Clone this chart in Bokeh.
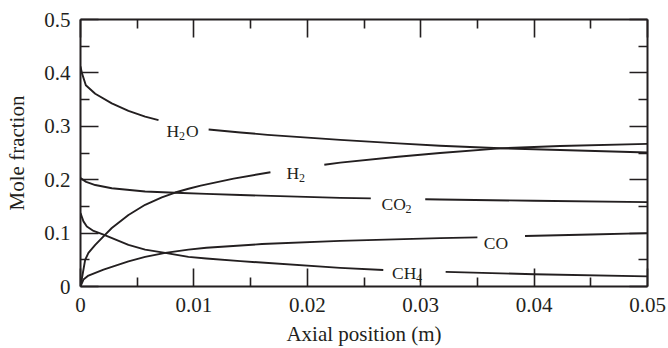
import numpy as np
from bokeh.plotting import figure
from bokeh.models import Range1d, FixedTicker, LinearAxis, ColumnDataSource
from bokeh.core.properties import value
from bokeh.embed import file_html
from bokeh.resources import INLINE

nan = float("nan")

# ---- data (x in m, y = mole fraction); nan = gap for label
h2o_x = [0, 0.00012, 0.00047, 0.0013, 0.00276, 0.00423, 0.0057, 0.00688, nan,
         0.0113, 0.0141, 0.0165, 0.0229, 0.028, 0.0317, 0.037, 0.0423, 0.05]
h2o_y = [0.412, 0.400, 0.377, 0.361, 0.343, 0.329, 0.318, 0.3116, nan,
         0.294, 0.2885, 0.284, 0.2745, 0.268, 0.2635, 0.259, 0.2555, 0.251]

h2_x = [0, 0.00041, 0.0007, 0.0013, 0.00203, 0.00276, 0.00423, 0.0057, 0.00717,
        0.00835, 0.00952, 0.0106, 0.0135, 0.01675, nan, 0.0215, 0.0229, 0.028, 0.0317,
        0.037, 0.0423, 0.05]
h2_y = [0, 0.050, 0.063, 0.078, 0.094, 0.1095, 0.134, 0.153, 0.1667,
        0.176, 0.183, 0.189, 0.202, 0.214, nan, 0.228, 0.232, 0.243, 0.250,
        0.2587, 0.263, 0.267]

co2_x = [0, 0.0005, 0.0013, 0.00276, 0.0057, 0.00835, 0.0111, 0.0141, 0.0229, 0.0256, nan,
         0.0304, 0.0317, 0.040, 0.05]
co2_y = [0.203, 0.196, 0.190, 0.184, 0.178, 0.1757, 0.1735, 0.1713, 0.166, 0.165, nan,
         0.1635, 0.163, 0.1605, 0.158]

co_x = [0, 0.00026, 0.0007, 0.00203, 0.00423, 0.0057, 0.00747, 0.00952, 0.0111, 0.016,
        0.0229, 0.0317, 0.035, nan, 0.0392, 0.045, 0.05]
co_y = [0, 0.013, 0.0205, 0.0317, 0.047, 0.0554, 0.063, 0.069, 0.0725, 0.0795,
        0.0855, 0.0905, 0.092, nan, 0.0945, 0.0975, 0.100]

ch4_x = [0, 0.00026, 0.00056, 0.00115, 0.00203, 0.00423, 0.0057, 0.00747, 0.00952, 0.0111,
         0.0141, 0.0229, 0.0267, nan, 0.0322, 0.040, 0.05]
ch4_y = [0.1375, 0.122, 0.1125, 0.104, 0.097, 0.078, 0.069, 0.063, 0.0554, 0.0525,
         0.0475, 0.0349, 0.031, nan, 0.0274, 0.023, 0.019]

x_ticks = [0, 0.01, 0.02, 0.03, 0.04, 0.05]
x_tick_labels = ["0", "0.01", "0.02", "0.03", "0.04", "0.05"]
x_minor = [0.005, 0.015, 0.025, 0.035, 0.045]
y_ticks = [0, 0.1, 0.2, 0.3, 0.4, 0.5]
y_tick_labels = ["0", "0.1", "0.2", "0.3", "0.4", "0.5"]
y_minor = [0.05, 0.15, 0.25, 0.35, 0.45]

# curve labels: anchor (left edge, baseline) in data coords
lab_x = [0.00758, 0.01817, 0.02654, 0.03557, 0.02748]
lab_y = [0.2916, 0.2121, 0.1543, 0.0815, 0.0255]
main_text = [["H", "O"], ["H"], ["CO"], ["CO"], ["CH"]]
main_off = [[0, 19.5], [0], [0], [0], [0]]
sub_text = ["2", "2", "2", "", "4"]
sub_off = [12.5, 12.5, 24, 0, 24]

INK = "#231f20"
FONT = "Liberation Serif"

p = figure(width=668, height=348, output_backend="svg", toolbar_location=None,
           x_range=Range1d(0, 0.05), y_range=Range1d(0, 0.5),
           min_border_left=80, min_border_right=21, min_border_top=19, min_border_bottom=61,
           x_axis_label="Axial position (m)", y_axis_label="Mole fraction")
p.outline_line_color = None
p.grid.visible = False
p.background_fill_color = "white"
p.border_fill_color = "white"

def style_axis(ax, ticks, minor, labels, show_labels):
    ax.ticker = FixedTicker(ticks=ticks, minor_ticks=minor)
    ax.major_tick_in = 18
    ax.major_tick_out = 0
    ax.minor_tick_in = 9
    ax.minor_tick_out = 0
    ax.axis_line_width = 2
    ax.axis_line_color = INK
    ax.major_tick_line_width = 1.6
    ax.minor_tick_line_width = 1.6
    ax.major_tick_line_color = INK
    ax.minor_tick_line_color = INK
    ax.major_label_text_font = FONT
    ax.major_label_text_color = INK
    ax.axis_label_text_font = FONT
    ax.axis_label_text_font_style = "normal"
    ax.axis_label_text_color = INK
    ax.axis_label_text_font_size = "21px"
    if show_labels:
        ax.major_label_overrides = {t: l for t, l in zip(ticks, labels)}
        ax.major_label_text_font_size = "21px"
    else:
        ax.major_label_overrides = {t: "" for t in ticks}
        ax.major_label_text_font_size = "10px"
        ax.major_label_standoff = 0

style_axis(p.xaxis[0], x_ticks, x_minor, x_tick_labels, True)
style_axis(p.yaxis[0], y_ticks, y_minor, y_tick_labels, True)
p.xaxis[0].major_label_standoff = 11
p.xaxis[0].axis_label_standoff = 7
p.yaxis[0].major_label_standoff = 10
p.yaxis[0].axis_label_standoff = 12

top = LinearAxis()
style_axis(top, x_ticks, x_minor, x_tick_labels, False)
p.add_layout(top, "above")
right = LinearAxis()
style_axis(right, y_ticks, y_minor, y_tick_labels, False)
p.add_layout(right, "right")

for xs, ys in [(h2o_x, h2o_y), (h2_x, h2_y), (co2_x, co2_y), (co_x, co_y), (ch4_x, ch4_y)]:
    p.line(xs, ys, line_color=INK, line_width=1.9, line_join="round", line_cap="butt")

mx, my, mt, mo = [], [], [], []
sx, sy, st, so = [], [], [], []
for i in range(len(lab_x)):
    for t, o in zip(main_text[i], main_off[i]):
        mx.append(lab_x[i]); my.append(lab_y[i]); mt.append(t); mo.append(o)
    if sub_text[i]:
        sx.append(lab_x[i]); sy.append(lab_y[i]); st.append(sub_text[i]); so.append(sub_off[i])

p.text(x="x", y="y", text="t", x_offset="o",
       source=ColumnDataSource(dict(x=mx, y=my, t=mt, o=mo)),
       text_font=value(FONT), text_font_size="17.5px", text_color=INK,
       text_align="left", text_baseline="alphabetic")
p.text(x="x", y="y", text="t", x_offset="o", y_offset=5,
       source=ColumnDataSource(dict(x=sx, y=sy, t=st, o=so)),
       text_font=value(FONT), text_font_size="12px", text_color=INK,
       text_align="left", text_baseline="alphabetic")

open("out.html", "w").write(file_html(p, INLINE))
